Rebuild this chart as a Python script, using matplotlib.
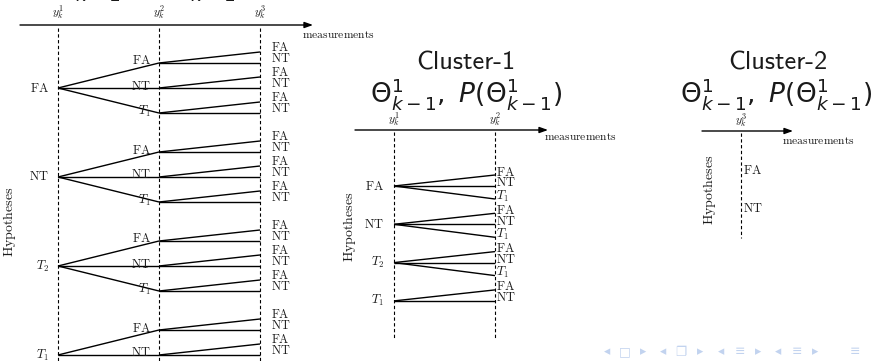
import matplotlib
matplotlib.use("Agg")
import matplotlib.pyplot as plt

# ── diagram content ──
hypotheses = ["FA", "NT", "T_2", "T_1"]
branch_targets = ["FA", "NT", "T_1"]
leaf_targets = ["FA", "NT"]
left_measurements = ["y_k^1", "y_k^2", "y_k^3"]
cluster1_measurements = ["y_k^1", "y_k^2"]
cluster2_measurements = ["y_k^3"]
cluster2_labels = ["FA", "NT"]
cluster_titles = ["Cluster-1", "Cluster-2"]
theta_label = r"$\Theta^1_{k-1},\ P(\Theta^1_{k-1})$"
nav_symbols = ["◂", "□", "▸", "◂", "❐", "▸", "◂", "≡", "▸", "◂", "≡", "▸", "≡"]

TEXT = "#1a1a1a"
LINE = "#000000"
NAV = "#c2d3ef"


def tex(s):
    # plain words in roman, symbols already math
    if "_" in s or "^" in s:
        return f"${s}$"
    return r"$\mathrm{" + s + "}$"


def draw(ax):
    ax.set_xlim(0, 876)
    ax.set_ylim(361, 0)
    ax.axis("off")

    def label(x, y, s, size=9, ha="center", va="center", **kw):
        ax.text(x, y, tex(s), fontsize=size, color=TEXT, ha=ha, va=va,
                math_fontfamily="cm", **kw)

    def axis_arrow(x0, x1, y):
        ax.annotate("", xy=(x1, y), xytext=(x0, y),
                    arrowprops=dict(arrowstyle="-|>,head_length=0.5,head_width=0.18",
                                    color=LINE, lw=1.0, shrinkA=0, shrinkB=0))

    def dashed(x, y0, y1):
        ax.plot([x, x], [y0, y1], color=LINE, lw=0.8, ls=(0, (3, 2.2)))

    def seg(p, q):
        ax.plot([p[0], q[0]], [p[1], q[1]], color=LINE, lw=1.0,
                solid_capstyle="butt")

    def targets_for(h):
        # a target already confirmed cannot be picked up again
        return [t for t in branch_targets if not (t == "T_1" and h == "T_1")]

    # ── left panel: full hypothesis tree ──
    cols = [58, 159, 260]
    axis_arrow(20, 313, 25)
    label(338, 35, "measurements", size=8.3)
    for x, m in zip(cols, left_measurements):
        label(x, 13, m, size=8.5)
        dashed(x, 28, 361)
    label(10, 222, "Hypotheses", size=10, rotation=90)

    off2 = {"FA": -25, "NT": 0, "T_1": 25}
    off3 = {"FA": -11, "NT": 0}
    for i, h in enumerate(hypotheses):
        hy = 88 + 89 * i
        label(cols[0] - 9, hy, h, ha="right")
        for t in targets_for(h):
            ny = hy + off2[t]
            seg((cols[0], hy), (cols[1], ny))
            label(cols[1] - 8, ny - 2, t, ha="right")
            for leaf in leaf_targets:
                ly = ny + off3[leaf]
                seg((cols[1], ny), (cols[2], ly))
                label(cols[2] + 11, ly - 4.5, leaf, ha="left", size=8.8)

    # clipped heading above the top edge
    ax.text(150, -15, theta_label, fontsize=19, color=TEXT, ha="center",
            va="center", math_fontfamily="dejavusans", clip_on=False)

    # ── cluster 1 ──
    c1 = [394, 495]
    ax.text(466, 63, cluster_titles[0], fontsize=19, color=TEXT,
            ha="center", va="center", family="cmss10")
    ax.text(466, 94, theta_label, fontsize=19, color=TEXT, ha="center",
            va="center", math_fontfamily="dejavusans")
    axis_arrow(355, 548, 130)
    label(580, 137, "measurements", size=8.3)
    for x, m in zip(c1, cluster1_measurements):
        label(x, 120, m, size=8.5)
        dashed(x, 132, 338)
    label(350, 227, "Hypotheses", size=10, rotation=90)

    off_c1 = {"FA": -11, "NT": 0, "T_1": 13}
    for i, h in enumerate(hypotheses):
        hy = 186 + 38.3 * i
        label(c1[0] - 10, hy, h, ha="right")
        for t in targets_for(h):
            ey = hy + off_c1[t]
            seg((c1[0], hy), (c1[1], ey))
            label(c1[1] + 1, ey - 3, t, ha="left")

    # ── cluster 2 ──
    x2 = 741
    ax.text(778, 63, cluster_titles[1], fontsize=19, color=TEXT,
            ha="center", va="center", family="cmss10")
    ax.text(776, 94, theta_label, fontsize=19, color=TEXT, ha="center",
            va="center", math_fontfamily="dejavusans")
    axis_arrow(702, 793, 131)
    label(818, 141, "measurements", size=8.3)
    label(x2, 121, cluster2_measurements[0], size=8.5)
    dashed(x2, 133, 238)
    label(710, 190, "Hypotheses", size=10, rotation=90)
    for j, s in enumerate(cluster2_labels):
        label(x2 + 2, 170 + 38 * j, s, ha="left")

    # beamer navigation symbols
    nav_x = [607, 625, 643, 663, 681, 700, 721, 740, 758, 778, 797, 815, 855]
    for x, s in zip(nav_x, nav_symbols):
        ax.text(x, 352, s, fontsize=9, color=NAV, ha="center", va="center",
                family="DejaVu Sans")


fig = plt.figure(figsize=(8.76, 3.61), dpi=100)
ax = fig.add_axes([0, 0, 1, 1])
draw(ax)
fig.savefig("out.png", dpi=100)
